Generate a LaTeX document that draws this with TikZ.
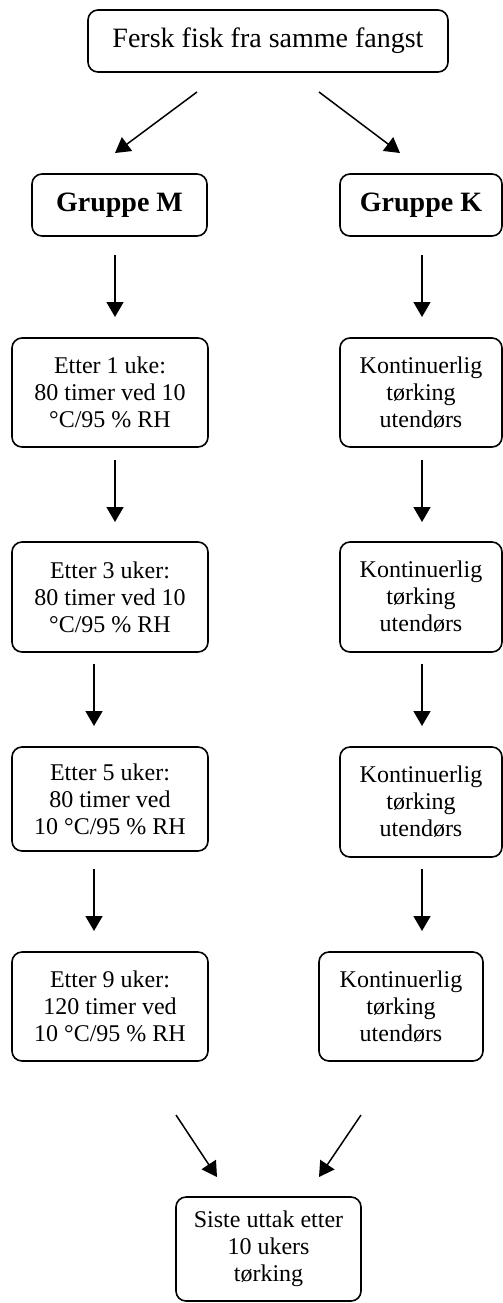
\documentclass[tikz,border=0pt]{standalone}
\usepackage{fontspec}
\setmainfont{Liberation Serif}
\usetikzlibrary{arrows.meta}
\begin{document}
\begin{tikzpicture}[x=0.5pt,y=-0.5pt,
  box/.style={draw,line width=0.8pt,rounded corners=5pt,align=center,inner sep=0pt,
    font=\fontsize{12}{13.5}\selectfont},
  big/.style={font=\fontsize{14}{16}\selectfont},
  arr/.style={-{Triangle[length=7.5pt,width=8.5pt]},line width=0.75pt}]
\useasboundingbox (0,0) rectangle (503,1303);
% nodes
\node[box,big,minimum width=180pt,minimum height=31pt] (top) at (268,41) {Fersk fisk fra samme fangst};
\node[box,big,minimum width=87.5pt,minimum height=31pt] (gm) at (119.5,205) {\textbf{Gruppe M}};
\node[box,big,minimum width=81pt,minimum height=31pt] (gk) at (421,205) {\textbf{Gruppe K}};
\node[box,minimum width=98pt,minimum height=54.5pt] (m1) at (110,392.5) {Etter 1 uke:\\80 timer ved 10\\°C/95 \% RH};
\node[box,minimum width=81pt,minimum height=54.5pt] (k1) at (421,392.5) {Kontinuerlig\\tørking\\utendørs};
\node[box,minimum width=98pt,minimum height=55pt] (m2) at (110,597) {Etter 3 uker:\\80 timer ved 10\\°C/95 \% RH};
\node[box,minimum width=81pt,minimum height=55pt] (k2) at (421,597) {Kontinuerlig\\tørking\\utendørs};
\node[box,minimum width=98pt,minimum height=52pt] (m3) at (110,799) {Etter 5 uker:\\80 timer ved\\10 °C/95 \% RH};
\node[box,minimum width=81pt,minimum height=55pt] (k3) at (421,802) {Kontinuerlig\\tørking\\utendørs};
\node[box,minimum width=98pt,minimum height=54.5pt] (m4) at (110,1006.5) {Etter 9 uker:\\120 timer ved\\10 °C/95 \% RH};
\node[box,minimum width=82pt,minimum height=54.5pt] (k4) at (401,1006.5) {Kontinuerlig\\tørking\\utendørs};
\node[box,minimum width=92.5pt,minimum height=52pt] (fin) at (268.5,1249) {Siste uttak etter\\10 ukers\\tørking};
% arrow end points
\coordinate (a1s) at (197,92);  \coordinate (a1e) at (115,153);
\coordinate (a2s) at (319,92);  \coordinate (a2e) at (400,153);
\coordinate (b1s) at (115,255); \coordinate (b1e) at (115,317);
\coordinate (b2s) at (422,255); \coordinate (b2e) at (422,317);
\coordinate (c1s) at (115,460); \coordinate (c1e) at (115,522);
\coordinate (c2s) at (422,460); \coordinate (c2e) at (422,522);
\coordinate (d1s) at (94,664);  \coordinate (d1e) at (94,726);
\coordinate (d2s) at (422,664); \coordinate (d2e) at (422,726);
\coordinate (e1s) at (94,869);  \coordinate (e1e) at (94,931);
\coordinate (e2s) at (422,869); \coordinate (e2e) at (422,931);
\coordinate (f1s) at (176,1115); \coordinate (f1e) at (217,1177);
\coordinate (f2s) at (361,1115); \coordinate (f2e) at (319,1177);
% arrows
\draw[arr] (a1s) -- (a1e);
\draw[arr] (a2s) -- (a2e);
\draw[arr] (b1s) -- (b1e);
\draw[arr] (b2s) -- (b2e);
\draw[arr] (c1s) -- (c1e);
\draw[arr] (c2s) -- (c2e);
\draw[arr] (d1s) -- (d1e);
\draw[arr] (d2s) -- (d2e);
\draw[arr] (e1s) -- (e1e);
\draw[arr] (e2s) -- (e2e);
\draw[arr] (f1s) -- (f1e);
\draw[arr] (f2s) -- (f2e);
\end{tikzpicture}
\end{document}
